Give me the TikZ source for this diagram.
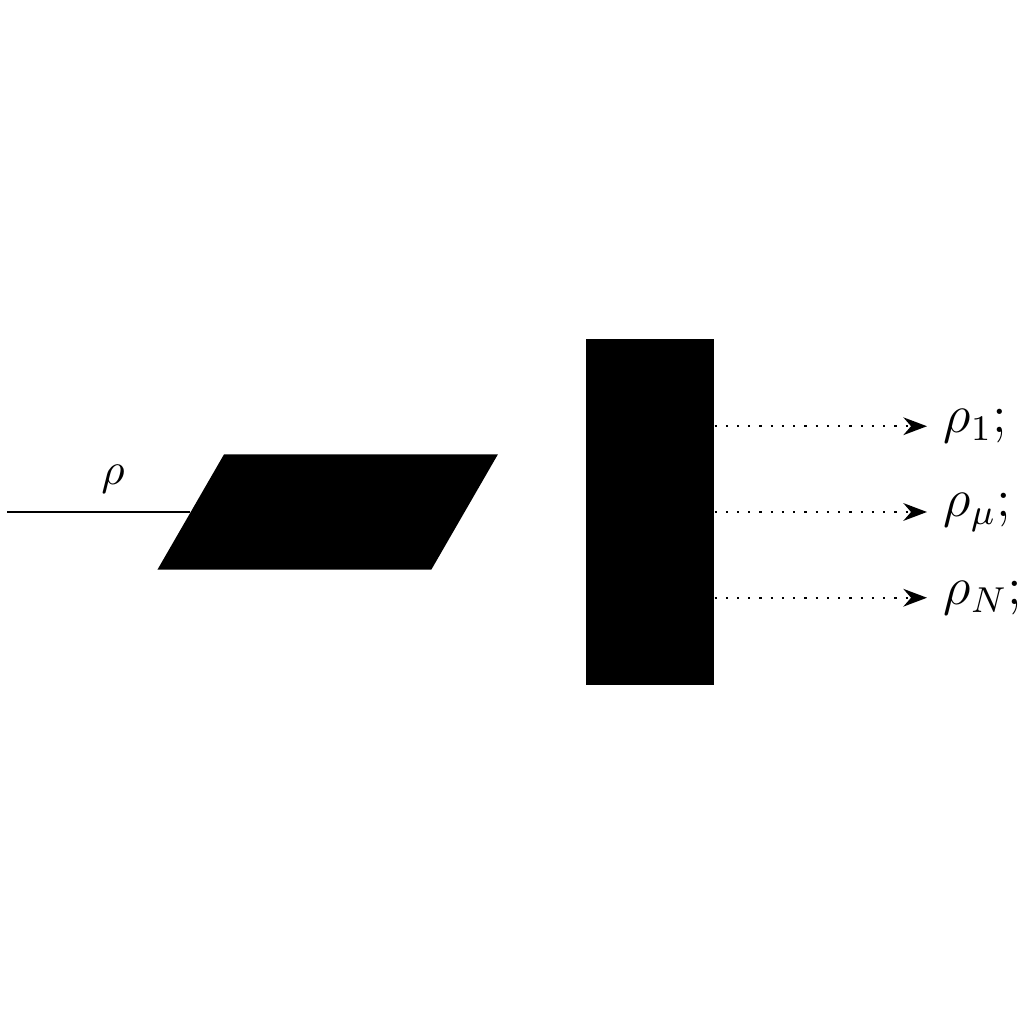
\documentclass[tikz,border=0pt]{standalone}
\usetikzlibrary{positioning,arrows.meta,calc,shapes.geometric}

\begin{document}
\begin{tikzpicture}[
  prismbox/.style={trapezium, trapezium left angle=60, trapezium right angle=120,
    fill=black, inner xsep=0.81cm, inner ysep=0.45cm},
  screen/.style={rectangle, fill=black, minimum width=1cm, minimum height=2.7cm,
    inner sep=0pt},
  feed/.style={draw=black, line width=0.5pt},
  beam/.style={-{Stealth}, draw=black, dotted, line width=0.5pt},
  outlabel/.style={font=\large, text=black, inner sep=3.5pt},
]
\useasboundingbox (0,0) rectangle (8,8);

% ---- nodes ----
\node[prismbox] (prism) at (2.56,4.0) {};
\node[screen, right=0.93cm of prism] (screen) {};
\coordinate (in) at (0.055,4.0);

% ---- input beam ----
\draw[feed] (in) -- (prism.west) node[pos=0.58, above, inner sep=4pt] {$\rho$};

% ---- output beams ----
\foreach \dy/\sub/\i in {0.67/1/1, 0/\mu/2, -0.67/N/3} {
  \coordinate (tip\i) at ($(screen.east)+(1.66,\dy)$);
  \draw[beam] ($(screen.east)+(0,\dy)$) -- (tip\i)
    node[outlabel, right] (lab\i) {$\rho_{\sub};$};
}

\end{tikzpicture}
\end{document}
